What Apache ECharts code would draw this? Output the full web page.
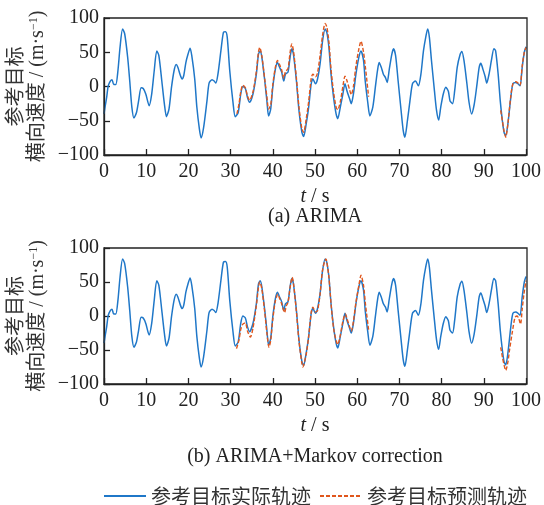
<!DOCTYPE html>
<html>
<head>
<meta charset="utf-8">
<script src="https://cdn.jsdelivr.net/npm/echarts@6/dist/echarts.min.js"></script>
<style>html,body{margin:0;padding:0;background:#fff;}#c{width:544px;height:505px;}</style>
</head>
<body>
<div id="c"></div>
<script>
// Actual lateral speed of reference target (same in both panels): [t (s), v (m/s)]
const actualTrack = [
[0,-40],[0.3,-28],[0.63,-16],[1,1],[1.5,8],[1.9,10],[2.3,3],[2.8,3],[3.3,23],[3.8,57],[4.4,84],[4.9,77],[5.6,43],[6.1,8],[6.6,-30],[7.1,-46],[7.7,-38],[8.2,-21],[8.8,-2],[9.3,-3],[9.9,-11],[10.7,-28],[11.3,-11],[11.9,23],[12.5,52],[13,45],[13.7,8],[14.3,-25],[14.8,-44],[15.4,-33],[16,-1],[16.6,23],[17.1,32],[17.5,28],[18.1,16],[18.5,11],[18.9,16],[19.4,35],[19.9,47],[20.4,56],[20.8,45],[21.5,11],[22,-30],[22.6,-62],[23,-75],[23.6,-60],[24.4,-21],[24.9,5],[25.6,10],[26.1,8],[26.5,5],[27,18],[27.7,52],[28.3,79],[28.8,80],[29.2,72],[29.8,23],[30.6,-25],[31.1,-44],[31.8,-38],[32.4,-11],[32.9,0],[33.5,-3],[34,-16],[34.5,-23],[35.3,-11],[36.1,18],[36.6,47],[37,52],[37.4,43],[38.1,8],[38.6,-21],[39,-43],[39.5,-33],[40,-1],[40.6,25],[41.1,35],[41.6,28],[42.1,21],[42.6,8],[43,18],[43.6,21],[44.1,43],[44.5,55],[44.9,47],[45.6,8],[46.2,-35],[46.9,-67],[47.3,-73],[47.9,-55],[48.5,-30],[49.1,4],[49.5,11],[50.1,4],[50.6,11],[51.2,33],[51.8,67],[52.4,84],[52.8,79],[53.3,57],[53.8,18],[54.4,-16],[55,-40],[55.4,-47],[56,-30],[56.6,-11],[57.1,4],[57.6,-7],[58.2,-18],[58.6,-25],[59.1,-11],[59.7,18],[60.4,43],[60.9,52],[61.5,38],[61.9,8],[62.5,-23],[63,-43],[63.7,-30],[64.3,-1],[64.8,23],[65.2,35],[65.7,28],[66.2,18],[66.7,13],[67.1,6],[67.6,25],[68.2,47],[68.6,55],[69.1,45],[69.7,8],[70.4,-35],[70.9,-64],[71.3,-74],[71.9,-50],[72.5,-21],[73.1,4],[73.8,8],[74.5,1],[75.1,18],[75.7,52],[76.3,74],[76.7,84],[77.1,72],[77.6,38],[78.3,-6],[78.8,-35],[79.3,-49],[79.8,-30],[80.4,-11],[81,-1],[81.6,-7],[82,-21],[82.6,-25],[83.1,-6],[83.7,28],[84.4,47],[84.8,51],[85.3,38],[86,4],[86.5,-23],[87.1,-40],[87.7,-27],[88.3,-1],[88.9,28],[89.3,34],[89.8,25],[90.3,15],[90.7,5],[91.3,20],[91.8,38],[92.4,55],[92.8,52],[93.4,18],[93.9,-21],[94.4,-50],[94.8,-67],[95.2,-72],[95.7,-55],[96.4,-16],[96.9,4],[97.6,6],[98.1,4],[98.6,1],[99.1,28],[99.6,50],[100,58]
];

// (a) ARIMA prediction, two segments
const predA1 = [
[31.5,-40],[32,-25],[32.4,-8],[32.9,2],[33.5,-2],[34,-14],[34.5,-20],[35.3,-8],[36.1,22],[36.6,50],[36.9,57],[37.4,45],[38.1,10],[38.6,-15],[39,-33],[39.5,-27],[40,3],[40.6,28],[41.1,38],[41.6,32],[42.1,24],[42.6,12],[43,22],[43.6,26],[44.1,50],[44.5,62],[44.9,52],[45.6,12],[46.2,-30],[46.9,-62],[47.3,-67],[47.9,-48],[48.5,-22],[49.1,12],[49.5,18],[50.1,14],[50.6,20],[51.2,45],[51.8,75],[52.4,92],[52.8,87],[53.3,65],[53.8,25],[54.4,-8],[55,-30],[55.4,-34],[56,-22],[56.6,0],[57.1,15],[57.6,8],[58.2,-5],[58.6,-12],[59.1,0],[59.7,30],[60.4,55],[60.9,66],[61.5,50],[62,25],[62.7,-15]
];
const predA2 = [
[94,-35],[94.4,-50],[94.8,-65],[95.2,-74],[95.7,-55],[96.4,-14],[96.9,4],[97.6,7],[98.1,5],[98.6,2],[99.1,30],[99.6,50],[100,57]
];

// (b) ARIMA + Markov correction prediction, two segments
const predB1 = [
[31.4,-48],[32,-35],[32.4,-20],[32.9,-12],[33.5,-10],[34,-22],[34.7,-31],[35.3,-18],[36.1,15],[36.6,42],[36.9,50],[37.4,40],[38.1,5],[38.6,-25],[39.1,-46],[39.5,-36],[40,-5],[40.6,22],[41.2,32],[41.6,26],[42.1,18],[42.8,5],[43.2,15],[43.6,20],[44.1,42],[44.6,57],[44.9,48],[45.6,6],[46.2,-37],[46.9,-70],[47.1,-75],[47.9,-57],[48.5,-30],[49.1,5],[49.5,13],[50.1,6],[50.6,8],[51.2,32],[51.8,68],[52.6,84],[52.8,80],[53.3,57],[53.8,18],[54.4,-18],[55,-36],[55.4,-42],[56,-28],[56.6,-8],[57.2,3],[57.6,-4],[58.2,-16],[58.6,-22],[59.1,-8],[59.7,20],[60.4,45],[60.9,60],[61.5,45],[62,15],[62.7,-20]
];
const predB2 = [
[94,-46],[94.4,-60],[94.8,-72],[95.2,-80],[95.7,-68],[96.1,-50],[96.8,-22],[97.4,-2],[97.9,0],[98.3,-4],[98.7,-12],[99.1,10],[99.5,32],[100,52]
];

const seriesNames = ['参考目标实际轨迹', '参考目标预测轨迹'];
const panelCaptions = ['(a) ARIMA', '(b) ARIMA+Markov correction'];
const yLabelLine1 = '参考目标';
const yLabelLine2 = '横向速度 / (m·s{sup|−1})';
const xLabel = '{i|t} / s';

const BLUE = '#1f77c8';
const ORANGE = '#e0561c';
const AXIS = '#222';
const SERIF = '"Liberation Serif","Times New Roman",serif';
const CJK = '"Liberation Serif","Noto Sans CJK SC",sans-serif';

const grids = [
  {left: 104, top: 18, width: 423, height: 137},
  {left: 104, top: 248, width: 423, height: 136}
];

function xAxisFor(i) {
  return {
    type: 'value', gridIndex: i, min: 0, max: 100, interval: 10,
    axisLine: {show: true, onZero: false, lineStyle: {color: AXIS, width: 1.3}},
    axisTick: {show: true, inside: true, length: 6, lineStyle: {color: AXIS, width: 1.3}},
    axisLabel: {color: AXIS, fontFamily: SERIF, fontSize: 20, margin: 7},
    splitLine: {show: false},
    name: xLabel, nameLocation: 'middle', nameGap: 32,
    nameTextStyle: {color: AXIS, fontFamily: SERIF, fontSize: 20,
      rich: {i: {fontStyle: 'italic', fontFamily: SERIF, fontSize: 20, color: AXIS}}}
  };
}
function yAxisFor(i) {
  return {
    type: 'value', gridIndex: i, min: -100, max: 100, interval: 50,
    axisLine: {show: true, onZero: false, lineStyle: {color: AXIS, width: 1.3}},
    axisTick: {show: true, inside: true, length: 6, lineStyle: {color: AXIS, width: 1.3}},
    axisLabel: {color: AXIS, fontFamily: SERIF, fontSize: 20, margin: 5,
      formatter: v => String(v).replace('-', '−')},
    splitLine: {show: false}
  };
}
function lineSeries(name, data, i, dashed) {
  return {
    name: name, type: 'line', xAxisIndex: i, yAxisIndex: i, data: data,
    symbol: 'none', smooth: 0.25, animation: false, z: dashed ? 3 : 2,
    lineStyle: dashed ? {color: ORANGE, width: 1.4, type: [4, 2]} : {color: BLUE, width: 1.5},
    itemStyle: {color: dashed ? ORANGE : BLUE}
  };
}

const graphics = [];
grids.forEach((g, i) => {
  const cy = g.top + g.height / 2;
  graphics.push({type: 'text', x: 17, y: cy, rotation: Math.PI / 2,
    style: {text: yLabelLine1, font: '20px ' + CJK, fill: '#333', align: 'center', verticalAlign: 'middle'}});
  graphics.push({type: 'text', x: 38, y: cy, rotation: Math.PI / 2,
    style: {text: yLabelLine2, fontFamily: CJK, fontSize: 20, fill: '#333', align: 'center', verticalAlign: 'middle',
      rich: {sup: {fontSize: 12, fontFamily: SERIF, fill: '#333', verticalAlign: 'top'}}}});
  graphics.push({type: 'text', x: 315, y: i === 0 ? 217 : 457,
    style: {text: panelCaptions[i], font: '20px ' + SERIF, fill: '#222', align: 'center', verticalAlign: 'middle'}});
  graphics.push({type: 'rect', shape: {x: g.left, y: g.top, width: g.width, height: g.height},
    style: {fill: 'none', stroke: AXIS, lineWidth: 1.3}, silent: true, z: 10});
});

const chart = echarts.init(document.getElementById('c'), null, {renderer: 'canvas'});
chart.setOption({
  backgroundColor: '#fff',
  animation: false,
  grid: grids,
  xAxis: [xAxisFor(0), xAxisFor(1)],
  yAxis: [yAxisFor(0), yAxisFor(1)],
  legend: {
    data: seriesNames, left: 98, top: 481, itemWidth: 42, itemHeight: 12, itemGap: 8,
    itemStyle: {opacity: 0},
    textStyle: {fontFamily: '"Noto Sans CJK SC",sans-serif', fontSize: 20, color: '#333'}
  },
  graphic: graphics,
  series: [
    lineSeries(seriesNames[0], actualTrack, 0, false),
    lineSeries(seriesNames[1], predA1, 0, true),
    lineSeries(seriesNames[1], predA2, 0, true),
    lineSeries(seriesNames[0], actualTrack, 1, false),
    lineSeries(seriesNames[1], predB1, 1, true),
    lineSeries(seriesNames[1], predB2, 1, true)
  ]
});
</script>
</body>
</html>
